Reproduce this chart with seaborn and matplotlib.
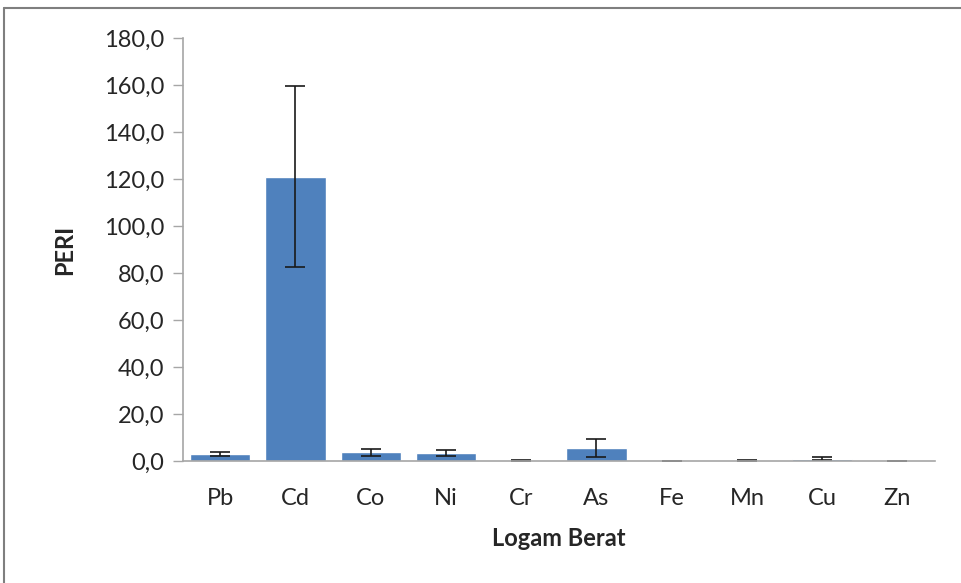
import numpy as np
import matplotlib.pyplot as plt
import seaborn as sns
import pandas as pd
from matplotlib.ticker import FuncFormatter

metals = ["Pb", "Cd", "Co", "Ni", "Cr", "As", "Fe", "Mn", "Cu", "Zn"]
peri = [3.0, 121.0, 3.8, 3.4, 0.2, 5.5, 0.0, 0.2, 1.1, 0.0]
err = [0.8, 38.5, 1.4, 1.4, 0.2, 3.8, 0.0, 0.2, 0.8, 0.0]

df = pd.DataFrame({"metal": metals, "peri": peri, "err": err})

sns.set_theme(style="white")
plt.rcParams["font.family"] = ["Lato", "DejaVu Sans"]

fig = plt.figure(figsize=(9.61, 5.83), dpi=100)
ax = fig.add_axes([0.19, 0.209, 0.783, 0.726])

sns.barplot(data=df, x="metal", y="peri", color="#4F81BD", saturation=1,
            width=0.8, errorbar=None, ax=ax)
ax.errorbar(np.arange(len(metals)), df["peri"], yerr=df["err"], fmt="none",
            ecolor="#1a1a1a", elinewidth=1.2, capsize=7, capthick=1.2)

ax.set_ylim(0, 180)
ax.set_yticks(np.arange(0, 181, 20))
ax.yaxis.set_major_formatter(FuncFormatter(lambda v, p: f"{v:.1f}".replace(".", ",")))
ax.set_xlim(-0.5, len(metals) - 0.5)

for s in ["top", "right"]:
    ax.spines[s].set_visible(False)
for s in ["left", "bottom"]:
    ax.spines[s].set_color("#a6a6a6")
    ax.spines[s].set_linewidth(1.2)

ax.tick_params(axis="y", which="major", left=True, length=7, width=1,
               color="#a6a6a6", labelsize=17, pad=6)
ax.tick_params(axis="x", bottom=False, labelsize=17, pad=13)

ax.set_xlabel("Logam Berat", fontsize=17, fontweight="bold", labelpad=13)
ax.set_ylabel("PERI", fontsize=17, fontweight="bold", labelpad=20)

# outer chart border
fig.add_artist(plt.Line2D([4 / 961, 4 / 961], [0, 1 - 8 / 583], color="#7f7f7f", lw=1.5))
fig.add_artist(plt.Line2D([4 / 961, 1], [1 - 8 / 583, 1 - 8 / 583], color="#7f7f7f", lw=1.5))

fig.savefig("out.png", dpi=100)
